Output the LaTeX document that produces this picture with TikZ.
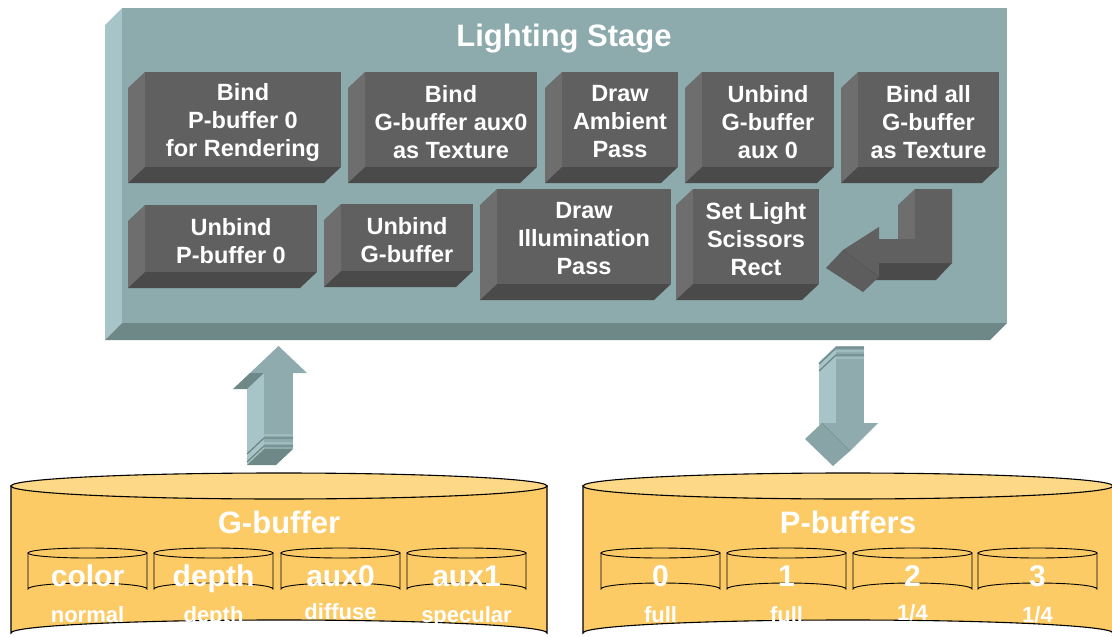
\documentclass[tikz,border=0pt]{standalone}
\usepackage{fontspec}
\setmainfont{Liberation Sans}

% palette
\definecolor{stagefront}{HTML}{8DAAAC}
\definecolor{stageside}{HTML}{A7C5C8}
\definecolor{stagebot}{HTML}{6E8787}
\definecolor{arrowfront}{HTML}{8FABAD}
\definecolor{blkfront}{HTML}{606060}
\definecolor{blkside}{HTML}{6E6E6E}
\definecolor{blkbot}{HTML}{4A4A4A}
\definecolor{blkedge}{HTML}{555555}
\definecolor{cylbody}{HTML}{FDCB65}
\definecolor{cyltop}{HTML}{FDD886}

\tikzset{
  steptext/.style={text=white, font=\bfseries\fontsize{23.5}{28}\selectfont,
    align=center, inner sep=0pt},
  stagetitle/.style={text=white, font=\bfseries\fontsize{31}{31}\selectfont,
    inner sep=0pt, anchor=base},
  cyltitle/.style={text=white, font=\bfseries\fontsize{31}{31}\selectfont,
    inner sep=0pt, anchor=base},
  cyltext/.style={text=white, font=\bfseries\fontsize{30}{30}\selectfont,
    inner sep=0pt, anchor=base},
  cyllabel/.style={text=white, font=\bfseries\fontsize{22}{22}\selectfont,
    inner sep=0pt, anchor=base},
  bigcyl/.style={draw=black, line width=1.1pt},
  smallcyl/.style={draw=black, line width=0.9pt, fill=cylbody},
  stripelight/.style={draw=stageside, line width=1.3pt},
  stripedark/.style={draw=stagebot, line width=1.3pt},
}

% extruded operation block: name, x1, y1, x2, y2, text
\newcommand\opblock[6]{%
  \fill[blkside] (#2,#3) -- (#2-17,#3+16) -- (#2-17,#5+16) -- (#2,#5) -- cycle;
  \fill[blkbot] (#2,#5) -- (#2-17,#5+16) -- (#4-17,#5+16) -- (#4,#5) -- cycle;
  \fill[blkfront] (#2,#3) rectangle (#4,#5);
  \node[steptext] (#1) at ({(#2+#4)/2},{(#3+#5)/2+2.5}) {#6};
}

% small buffer cylinder: name, left x, big text, label, label baseline
\newcommand\minicyl[5]{%
  \filldraw[smallcyl] (#2,553) -- (#2,589)
    arc[start angle=180, end angle=360, x radius=59.5, y radius=6]
    -- (#2+119,553) -- cycle;
  \filldraw[smallcyl] (#2+59.5,553) ellipse[x radius=59.5, y radius=5];
  \node[cyltext] (#1) at (#2+59.5,586) {#3};
  \node[cyllabel] (#1-lab) at (#2+59.5,#5) {#4};
}

\begin{document}
\begin{tikzpicture}[x=1pt, y=-1pt]
\useasboundingbox (0,0) rectangle (1112,637);

% ---- Lighting stage slab ----
\fill[stageside] (122,8) -- (105,25) -- (105,340) -- (122,323) -- cycle;
\fill[stagebot] (122,323) -- (105,340) -- (990,340) -- (1007,323) -- cycle;
\fill[stagefront] (122,8) rectangle (1007,323);
\node[stagetitle] (stage) at (564,46) {Lighting Stage};

% first row of operations
\opblock{b1}{145}{72}{341}{167}{Bind\\P-buffer 0\\for Rendering}
\opblock{b2}{365}{72}{537}{167}{Bind\\G-buffer aux0\\as Texture}
\opblock{b3}{562}{72}{678}{167}{Draw\\Ambient\\Pass}
\opblock{b4}{702}{72}{834}{167}{Unbind\\G-buffer\\aux 0}
\opblock{b5}{858}{72}{999}{167}{Bind all\\G-buffer\\as Texture}

% second row of operations
\opblock{c1}{145}{205}{317}{272}{Unbind\\P-buffer 0}
\opblock{c2}{341}{204}{473}{271}{Unbind\\G-buffer}
\opblock{c3}{497}{189}{671}{284}{Draw\\Illumination\\Pass}
\opblock{c4}{693}{189}{819}{284}{Set Light\\Scissors\\Rect}

% loop-back arrow
\coordinate (loop) at (915,189);
\fill[blkside] (loop) -- (898,205) -- (898,239) -- (915,239) -- cycle;
\fill[blkbot] (879,263) -- (952,263) -- (936,280) -- (862,280) -- cycle;
\fill[blkfront] (loop) -- (952,189) -- (952,263) -- (879,263) -- (879,239) -- (915,239) -- cycle;
\fill[blkfront!97!black] (843,250) -- (826,268) -- (863,292) -- (879,277) -- cycle;
\fill[blkfront] (879,227) -- (843,250) -- (879,277) -- cycle;
\draw[blkedge, line width=0.6pt] (843,250) -- (879,277);

% ---- upward arrow: G-buffer to stage ----
\coordinate (uptip) at (278.5,346);
\fill[stageside] (264,373) -- (264,449) -- (247,465) -- (247,389) -- cycle;
\fill[arrowfront] (264,373) rectangle (293,449);
\fill[arrowfront] (uptip) -- (307,373) -- (250,373) -- cycle;
\fill[stagebot] (250,373) -- (264,373) -- (247,389) -- (233,389) -- cycle;
\fill[stagebot] (264,449) -- (293,449) -- (276,465) -- (247,465) -- cycle;
\foreach \yy in {435,443} {
  \draw[stripelight] (293,\yy) -- (264,\yy) -- (247,\yy+16);
  \draw[stripedark] (293,\yy+3) -- (264,\yy+3) -- (247,\yy+19);
}

% ---- downward arrow: stage to P-buffers ----
\coordinate (downtip) at (833,466);
\fill[stageside] (836,346) -- (819,362) -- (819,439) -- (836,423) -- cycle;
\fill[arrowfront] (836,346) rectangle (864,423);
\foreach \yy in {348,355} {
  \draw[stripedark] (864,\yy) -- (836,\yy) -- (819,\yy+16);
  \draw[stripelight] (864,\yy+3) -- (836,\yy+3) -- (819,\yy+19);
}
\fill[arrowfront] (822,423) -- (878,423) -- (850,451) -- cycle;
\fill[arrowfront!96!black] (822,423) -- (850,451) -- (downtip) -- (805,439) -- cycle;
\draw[stagebot!80!arrowfront, line width=0.6pt] (822,423) -- (850,451);

% ---- G-buffer store ----
\filldraw[bigcyl, fill=cylbody] (11,486) -- (11,633)
  arc[start angle=180, end angle=360, x radius=268, y radius=13] -- (547,486) -- cycle;
\filldraw[bigcyl, fill=cyltop] (279,486) ellipse[x radius=268, y radius=13];
\node[cyltitle] (gbuf) at (279,533) {G-buffer};
\minicyl{gcolor}{28}{color}{normal}{622}
\minicyl{gdepth}{154}{depth}{depth}{622}
\minicyl{gaux0}{281}{aux0}{diffuse}{619}
\minicyl{gaux1}{407}{aux1}{specular}{622}

% ---- P-buffers store ----
\filldraw[bigcyl, fill=cylbody] (583,486) -- (583,633)
  arc[start angle=180, end angle=360, x radius=265, y radius=13] -- (1113,486) -- cycle;
\filldraw[bigcyl, fill=cyltop] (848,486) ellipse[x radius=265, y radius=13];
\node[cyltitle] (pbuf) at (848,533) {P-buffers};
\minicyl{p0}{601}{0}{full}{622}
\minicyl{p1}{727}{1}{full}{622}
\minicyl{p2}{853}{2}{1/4}{620}
\minicyl{p3}{978}{3}{1/4}{622}
\end{tikzpicture}
\end{document}
